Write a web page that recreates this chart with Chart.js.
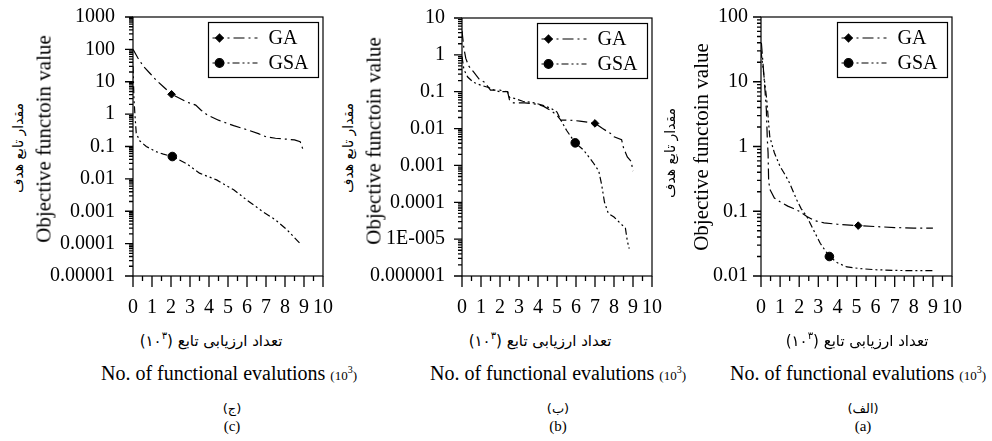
<!DOCTYPE html>
<html><head><meta charset="utf-8">
<script src="https://cdn.jsdelivr.net/npm/chart.js@4"></script>
<style>
html,body{margin:0;padding:0;background:#fff;}
body{width:992px;height:441px;position:relative;overflow:hidden;font-family:"Liberation Serif","Times New Roman",serif;color:#000;}
canvas{position:absolute;top:0;}
.t{position:absolute;white-space:nowrap;transform:translate(-50%,-50%);line-height:1;}
.rot{transform:translate(-50%,-50%) rotate(-90deg);}
.fa{font-family:"DejaVu Sans","Noto Sans",sans-serif;}
.en{font-size:20px;}
.small{font-size:13px;}
sup{font-size:10px;vertical-align:7px;line-height:0;}
</style></head><body>
<canvas id="cC" width="300" height="320" style="left:33px;width:300px;height:320px"></canvas>
<canvas id="cB" width="300" height="320" style="left:362px;width:300px;height:320px"></canvas>
<canvas id="cA" width="301" height="320" style="left:661px;width:301px;height:320px"></canvas>

<!-- y titles -->
<div class="t rot fa" style="left:18px;top:148px;font-size:14px" dir="rtl">مقدار تابع هدف</div>
<div class="t rot" style="left:44px;top:139px;font-size:21px">Objective functoin value</div>
<div class="t rot fa" style="left:348px;top:148px;font-size:14px" dir="rtl">مقدار تابع هدف</div>
<div class="t rot" style="left:374px;top:141px;font-size:21px">Objective functoin value</div>
<div class="t rot fa" style="left:670px;top:153px;font-size:14px" dir="rtl">مقدار تابع هدف</div>
<div class="t rot" style="left:701px;top:147px;font-size:21px">Objective functoin value</div>

<!-- x titles -->
<div class="t fa" style="left:211px;top:341px;font-size:15px" dir="rtl">تعداد ارزیابی تابع (۱۰<sup>۳</sup>)</div>
<div class="t en" style="left:229px;top:373px">No. of functional evalutions <span class="small">(10<sup>3</sup>)</span></div>
<div class="t fa" style="left:232px;top:408px;font-size:13px" dir="rtl">(ج)</div>
<div class="t" style="left:232px;top:426px;font-size:15px">(c)</div>

<div class="t fa" style="left:540px;top:341px;font-size:15px" dir="rtl">تعداد ارزیابی تابع (۱۰<sup>۳</sup>)</div>
<div class="t en" style="left:558px;top:373px">No. of functional evalutions <span class="small">(10<sup>3</sup>)</span></div>
<div class="t fa" style="left:558px;top:408px;font-size:13px" dir="rtl">(ب)</div>
<div class="t" style="left:558px;top:426px;font-size:15px">(b)</div>

<div class="t fa" style="left:857px;top:341px;font-size:15px" dir="rtl">تعداد ارزیابی تابع (۱۰<sup>۳</sup>)</div>
<div class="t en" style="left:858px;top:373px">No. of functional evalutions <span class="small">(10<sup>3</sup>)</span></div>
<div class="t fa" style="left:863px;top:408px;font-size:13px" dir="rtl">(الف)</div>
<div class="t" style="left:863px;top:426px;font-size:15px">(a)</div>

<script>
// ---------- DATA ----------
const seriesNames = ['GA', 'GSA'];
const xTickValues = [0,1,2,3,4,5,6,7,8,9,10];
const xTickLabels = ['0','1','2','3','4','5','6','7','8','9','10'];

// panel (c)
const c_yTickValues = [1000,100,10,1,0.1,0.01,0.001,0.0001,0.00001];
const c_yTickLabels = ['1000','100','10','1','0.1','0.01','0.001','0.0001','0.00001'];
const c_GA_x  = [0, 0.25, 0.55, 0.9, 1.2, 1.6, 2.03, 2.5, 2.8, 3.3, 3.6, 3.9, 4.5, 5.3, 6.0, 6.6, 7.0, 7.5, 8.0, 8.5, 8.8, 8.95];
const c_GA_y  = [100, 55, 30, 18, 11.5, 7, 4.1, 3.0, 2.4, 1.9, 1.3, 0.95, 0.65, 0.44, 0.33, 0.25, 0.2, 0.18, 0.17, 0.16, 0.14, 0.08];
const c_GSA_x = [0, 0.05, 0.1, 0.17, 0.35, 0.7, 1.2, 1.6, 2.07, 2.8, 3.5, 4.4, 5.3, 6.0, 6.8, 7.5, 8.1, 8.8];
const c_GSA_y = [30, 3, 1, 0.26, 0.15, 0.1, 0.07, 0.058, 0.049, 0.03, 0.015, 0.0093, 0.0046, 0.0022, 0.001, 0.00054, 0.00027, 0.0001];
const c_markerX = [2.03, 2.07];

// panel (b)
const b_yTickValues = [10,1,0.1,0.01,0.001,0.0001,0.00001,0.000001];
const b_yTickLabels = ['10','1','0.1','0.01','0.001','0.0001','1E-005','0.000001'];
const b_GA_x  = [0, 0.1, 0.2, 0.35, 0.6, 0.9, 1.2, 1.5, 2.0, 2.4, 2.5, 2.7, 3.3, 4.0, 4.3, 4.7, 5.0, 5.2, 5.6, 6.2, 7.0, 7.4, 7.8, 8.0, 8.4, 8.5, 8.7, 8.9, 9.0];
const b_GA_y  = [4.5, 1.5, 0.8, 0.5, 0.35, 0.22, 0.18, 0.11, 0.11, 0.1, 0.06, 0.05, 0.05, 0.045, 0.04, 0.03, 0.023, 0.017, 0.017, 0.016, 0.0138, 0.01, 0.0075, 0.006, 0.005, 0.003, 0.0017, 0.0013, 0.0007];
const b_GSA_x = [0, 0.1, 0.3, 0.6, 1.0, 1.4, 1.7, 2.0, 2.4, 2.5, 2.8, 3.2, 3.8, 4.3, 4.7, 5.0, 5.2, 5.5, 5.96, 6.4, 6.9, 7.2, 7.35, 7.5, 7.7, 8.0, 8.3, 8.6, 8.7, 8.8];
const b_GSA_y = [0.9, 0.4, 0.25, 0.18, 0.15, 0.13, 0.11, 0.1, 0.1, 0.07, 0.065, 0.055, 0.05, 0.042, 0.035, 0.028, 0.017, 0.009, 0.0041, 0.0026, 0.0012, 0.0007, 0.0003, 0.0001, 0.00005, 0.00004, 0.000028, 0.00002, 0.000009, 0.0000055];
const b_markerX = [7.0, 5.96];

// panel (a)
const a_yTickValues = [100,10,1,0.1,0.01];
const a_yTickLabels = ['100','10','1','0.1','0.01'];
const a_GA_x  = [0.02, 0.1, 0.2, 0.28, 0.33, 0.37, 0.4, 0.46, 0.7, 1.0, 1.4, 1.7, 2.0, 2.4, 2.8, 3.3, 4.0, 5.09, 6.0, 7.0, 8.0, 9.0];
const a_GA_y  = [40, 20, 8, 3.7, 1.3, 0.8, 0.3, 0.22, 0.16, 0.14, 0.12, 0.11, 0.1, 0.083, 0.072, 0.066, 0.063, 0.06, 0.058, 0.056, 0.055, 0.055];
const a_GSA_x = [0, 0.1, 0.3, 0.46, 0.7, 1.0, 1.3, 1.5, 1.87, 2.1, 2.4, 2.74, 3.1, 3.58, 4.0, 4.5, 5.2, 6.0, 7.0, 8.0, 9.0];
const a_GSA_y = [30, 17, 5.3, 1.4, 0.8, 0.49, 0.35, 0.27, 0.15, 0.11, 0.083, 0.052, 0.032, 0.02, 0.016, 0.0138, 0.013, 0.0125, 0.0122, 0.0121, 0.0121];
const a_markerX = [5.09, 3.58];

// ---------- STYLE ----------
const FONT = '"Liberation Serif", "Times New Roman", serif';
const styles = [
  {dash:[11,4,2,4], pointStyle:'rectRot', radius:3.8},
  {dash:[7,3,2,3,2,3], pointStyle:'circle', radius:4.3}
];

const framePlugin = {
  id:'frame',
  afterDraw(chart){
    const {ctx, chartArea:a, scales:{x, y}} = chart;
    ctx.save();
    ctx.strokeStyle = '#000'; ctx.lineWidth = 1.2; ctx.setLineDash([]);
    ctx.strokeRect(a.left, a.top, a.right - a.left, a.bottom - a.top);
    ctx.lineWidth = 1.3;
    ctx.beginPath();
    for (let v = x.min; v <= x.max + 1e-9; v += 0.5) {
      const px = x.getPixelForValue(v);
      const len = Math.abs(v - Math.round(v)) < 1e-9 ? 11 : 5;
      ctx.moveTo(px, a.bottom); ctx.lineTo(px, a.bottom + len);
    }
    const lo = Math.floor(Math.log10(y.min) + 1e-9), hi = Math.round(Math.log10(y.max));
    for (let e = lo; e <= hi; e++) {
      for (let m = 1; m <= 9; m++) {
        const v = m * Math.pow(10, e);
        if (v < y.min * 0.999 || v > y.max * 1.001) continue;
        const py = y.getPixelForValue(v);
        const len = m === 1 ? 8 : 4;
        ctx.moveTo(a.left - len, py); ctx.lineTo(a.left, py);
      }
    }
    ctx.stroke();
    // legend box
    const bw = 110, bh = 55;
    const bx = a.right - 4.5 - bw, by = a.top + 5.5;
    ctx.fillStyle = '#fff';
    ctx.fillRect(bx, by, bw, bh);
    ctx.lineWidth = 1.2;
    ctx.strokeRect(bx, by, bw, bh);
    chart.data.datasets.forEach((ds, i) => {
      const ly = by + 15.5 + i * 25;
      ctx.save();
      ctx.lineWidth = ds.borderWidth;
      ctx.setLineDash(ds.borderDash);
      ctx.beginPath(); ctx.moveTo(bx + 4, ly); ctx.lineTo(bx + 49, ly); ctx.stroke();
      ctx.restore();
      ctx.fillStyle = '#000'; ctx.strokeStyle = '#000';
      Chart.helpers.drawPoint(ctx, {pointStyle: ds.pointStyle, radius: styles[i].radius, rotation: 0, borderWidth: 1}, bx + 11, ly);
      ctx.fillStyle = '#000';
      ctx.font = '20px ' + FONT;
      ctx.textBaseline = 'middle'; ctx.textAlign = 'left';
      ctx.fillText(ds.label, bx + 60, ly + 1);
    });
    ctx.restore();
  }
};

function toPts(xs, ys){ return xs.map((x, i) => ({x, y: ys[i]})); }

function makePanel(id, p){
  const canvas = document.getElementById(id);
  const H = 320, YW = 100, PR = canvas.width - YW - p.plotW;
  const datasets = [
    [p.gaX, p.gaY], [p.gsaX, p.gsaY]
  ].map((d, i) => ({
    label: seriesNames[i],
    data: toPts(d[0], d[1]),
    borderColor: '#000', backgroundColor: '#000',
    borderWidth: 1.2, borderDash: styles[i].dash,
    pointStyle: styles[i].pointStyle,
    pointRadius: ctx => (ctx.raw && Math.abs(ctx.raw.x - p.markers[i]) < 1e-9) ? styles[i].radius : 0,
    pointBorderWidth: 1, pointHoverRadius: 0, tension: 0, fill: false
  }));
  new Chart(canvas, {
    type: 'line',
    data: {datasets},
    options: {
      responsive: false, animation: false, events: [],
      layout: {padding: {left: 0, right: PR, top: p.top, bottom: 0}},
      plugins: {legend: {display: false}, tooltip: {enabled: false}},
      scales: {
        x: {
          type: 'linear', min: 0, max: 10,
          afterBuildTicks: s => { s.ticks = xTickValues.map(v => ({value: v})); },
          ticks: {callback: (v, i) => xTickLabels[i], font: {family: FONT, size: 20}, color: '#000', padding: 20, maxRotation: 0, autoSkip: false},
          grid: {display: false, drawTicks: false}, border: {display: false},
          afterFit: s => { s.height = H - 276; s.paddingLeft = 0; s.paddingRight = 0; }
        },
        y: {
          type: 'logarithmic', min: p.yMin, max: p.yMax,
          afterBuildTicks: s => { s.ticks = p.yTicks.map(v => ({value: v})); },
          ticks: {callback: (v, i) => p.yLabels[i], font: {family: FONT, size: 20}, color: '#000', padding: p.labPad, autoSkip: false},
          grid: {display: false, drawTicks: false}, border: {display: false},
          afterFit: s => { s.width = YW; s.paddingTop = 0; s.paddingBottom = 0; }
        }
      }
    },
    plugins: [framePlugin]
  });
}

makePanel('cC', {plotW:190, top:17, yMin:0.00001, yMax:1000, yTicks:c_yTickValues, yLabels:c_yTickLabels, labPad:18,
  gaX:c_GA_x, gaY:c_GA_y, gsaX:c_GSA_x, gsaY:c_GSA_y, markers:c_markerX});
makePanel('cB', {plotW:190, top:18, yMin:0.000001, yMax:10, yTicks:b_yTickValues, yLabels:b_yTickLabels, labPad:17,
  gaX:b_GA_x, gaY:b_GA_y, gsaX:b_GSA_x, gsaY:b_GSA_y, markers:b_markerX});
makePanel('cA', {plotW:191, top:17, yMin:0.01, yMax:100, yTicks:a_yTickValues, yLabels:a_yTickLabels, labPad:13,
  gaX:a_GA_x, gaY:a_GA_y, gsaX:a_GSA_x, gsaY:a_GSA_y, markers:a_markerX});
</script>
</body></html>
